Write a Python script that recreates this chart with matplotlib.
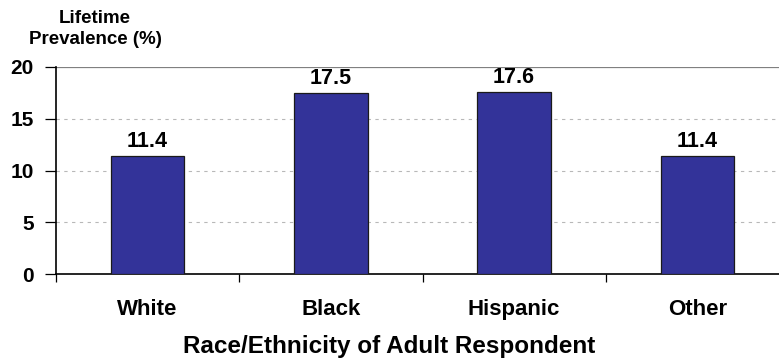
import matplotlib
matplotlib.use("Agg")
import matplotlib.pyplot as plt
from matplotlib.ticker import FixedLocator

groups = ["White", "Black", "Hispanic", "Other"]
prevalence = [11.4, 17.5, 17.6, 11.4]
y_ticks = [0, 5, 10, 15, 20]

plt.rcParams["font.family"] = ["Liberation Sans", "DejaVu Sans"]
plt.rcParams["font.weight"] = "bold"

fig = plt.figure(figsize=(7.79, 3.6), dpi=100)
# axis runs a little past the right edge of the canvas
ax = fig.add_axes([56 / 779, 86 / 360, 733 / 779, 207 / 360])

x = list(range(len(groups)))
bars = ax.bar(x, prevalence, width=0.40, color="#333399", edgecolor="#1a1a1a",
              linewidth=0.9, zorder=3)
for b, v in zip(bars, prevalence):
    ax.annotate("{:.1f}".format(v), (b.get_x() + b.get_width() / 2, v),
                xytext=(0, 3), textcoords="offset points", ha="center", va="bottom",
                fontsize=15.5, fontweight="bold")

ax.set_xlim(-0.5, len(groups) - 0.5)
ax.set_ylim(0, 20)
ax.set_yticks(y_ticks)
ax.set_yticklabels([str(t) for t in y_ticks], fontsize=15, fontweight="bold")

for t in y_ticks[1:-1]:
    ax.axhline(t, color="#b8b8b8", linewidth=0.8, linestyle=(0, (3, 4)), zorder=1)
ax.axhline(20, color="#808080", linewidth=0.9, zorder=1)

ax.xaxis.set_major_locator(FixedLocator([i - 0.5 for i in range(len(groups) + 1)]))
ax.set_xticklabels([])
ax.xaxis.set_minor_locator(FixedLocator(x))
ax.set_xticklabels(groups, minor=True, fontsize=16, fontweight="bold")
ax.tick_params(axis="x", which="minor", length=0, pad=18)
ax.tick_params(axis="x", which="major", length=6, width=0.9, direction="out")
ax.tick_params(axis="y", length=8, width=0.9, pad=8)

for side in ["top", "right"]:
    ax.spines[side].set_visible(False)
for side in ["left", "bottom"]:
    ax.spines[side].set_linewidth(1.2)
    ax.spines[side].set_color("black")

fig.text(0.5, 1 - 346 / 360, "Race/Ethnicity of Adult Respondent", ha="center",
         va="center", fontsize=17.5, fontweight="bold")
fig.text(95 / 779, 1 - 29 / 360, "Lifetime\nPrevalence (%)", ha="center", va="center",
         fontsize=13.5, fontweight="bold", linespacing=1.3)

fig.savefig("out.png", dpi=100)
